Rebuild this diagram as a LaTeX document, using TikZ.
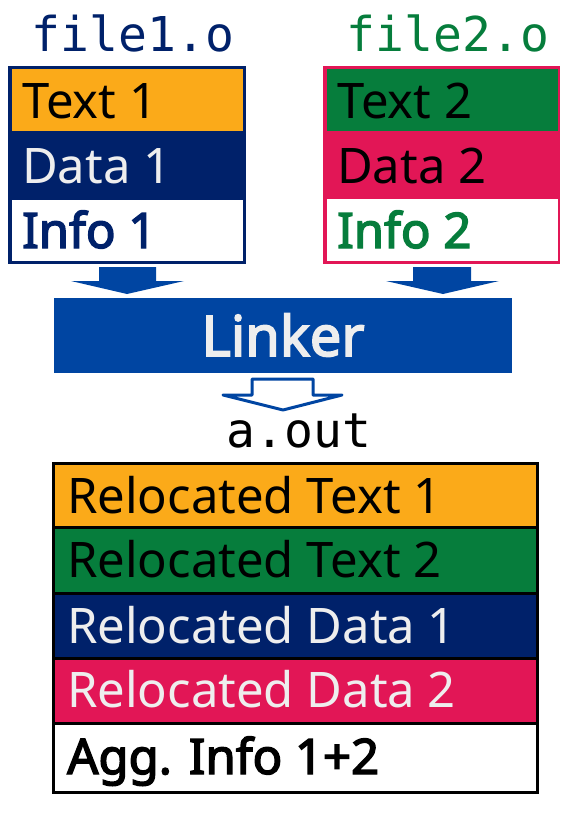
\documentclass[tikz,border=0pt]{standalone}
\usepackage{fontspec}
\newfontfamily\lblfont{Noto Sans}[AutoFakeBold=3]
\newfontfamily\codefont{DejaVu Sans Mono}
\definecolor{corange}{HTML}{FBAA19}
\definecolor{cgreen}{HTML}{067D3C}
\definecolor{cnavy}{HTML}{00216A}
\definecolor{ccrim}{HTML}{E21656}
\definecolor{cblue}{HTML}{0045A2}
\definecolor{clight}{HTML}{EEEEEE}
\begin{document}
\begin{tikzpicture}[x=1pt,y=-1pt,
  lbl/.style={font=\lblfont\fontsize{49}{53}\selectfont, anchor=base west, inner sep=0pt},
  blbl/.style={lbl, font=\lblfont\bfseries\fontsize{49}{53}\selectfont},
  code/.style={font=\codefont\fontsize{48}{52}\selectfont, anchor=base, inner sep=0pt},
  bigarrow/.style={fill=cblue},
  sep/.style={draw=black, line width=3pt}]
\useasboundingbox (0,0) rectangle (569,816);
% file1.o
\node[code, text=cnavy] (f1) at (133,52) {file1.o};
\fill[cnavy] (8,66) rectangle (246,264);
\fill[corange] (12,69) rectangle (243,131);
\fill[white] (12,200) rectangle (243,261);
\node[lbl] (t1) at (22,118) {Text 1};
\node[lbl, text=clight] (d1) at (22,183) {Data 1};
\node[blbl, text=cnavy] (i1) at (22,248) {Info 1};
% file2.o
\node[code, text=cgreen] (f2) at (448,52) {file2.o};
\fill[ccrim] (323,66) rectangle (560,264);
\fill[cgreen] (327,69) rectangle (558,131);
\fill[white] (327,199) rectangle (558,261);
\node[lbl] (t2) at (337,118) {Text 2};
\node[lbl] (d2) at (337,183) {Data 2};
\node[blbl, text=cgreen] (i2) at (337,248) {Info 2};
% arrows to linker
\fill[bigarrow] (99,267) -- (156,267) -- (156,281) -- (184,281) -- (127,294) -- (71,281) -- (99,281) -- cycle;
\fill[bigarrow] (413,267) -- (471,267) -- (471,281) -- (499,281) -- (443,294) -- (386,281) -- (413,281) -- cycle;
% linker
\fill[cblue] (54,298) rectangle (512,373);
\node[font=\lblfont\bfseries\fontsize{56}{60}\selectfont, text=clight, anchor=base, inner sep=0pt] (lk) at (283,356) {Linker};
% outlined arrow
\draw[cblue, fill=white, line width=3pt, line join=round] (252,379) -- (313,379) -- (313,395) -- (342,395) -- (283,410) -- (223,395) -- (252,395) -- cycle;
% a.out
\node[code] (ao) at (299,447) {a.out};
% bottom block
\fill[corange] (53,463) rectangle (537,527);
\fill[cgreen] (53,527) rectangle (537,593);
\fill[cnavy] (53,593) rectangle (537,658);
\fill[ccrim] (53,658) rectangle (537,723);
\fill[white] (53,723) rectangle (537,792);
\draw[sep] (53,463) rectangle (537,792);
\foreach \yy in {527,593,658,723} \draw[sep] (53,\yy) -- (537,\yy);
\node[lbl] (r1) at (67,513) {Relocated Text 1};
\node[lbl] (r2) at (67,577) {Relocated Text 2};
\node[lbl, text=clight] (r3) at (67,643) {Relocated Data 1};
\node[lbl, text=clight] (r4) at (67,707) {Relocated Data 2};
\node[blbl] (r5) at (67,774) {Agg. Info 1+2};
\end{tikzpicture}
\end{document}
